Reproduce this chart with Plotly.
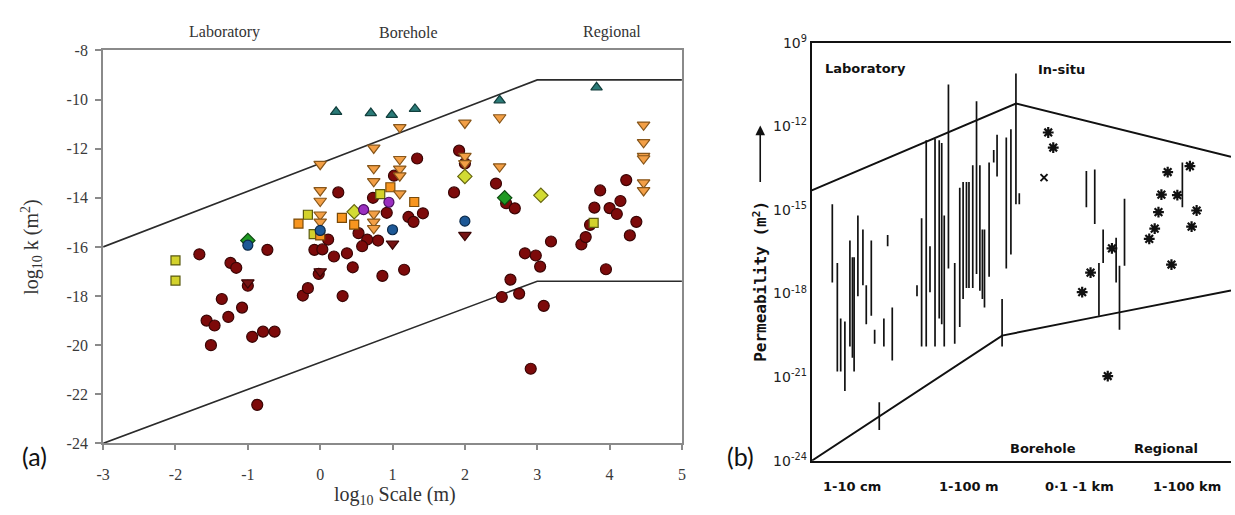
import plotly.graph_objects as go

# ---------------- Panel (a): log10 permeability vs log10 scale ----------------
red_circle_x = [-1.67, -1.57, -1.46, -1.51, -1.36, -1.27, -1.24, -1.16, -1.08, -1.0, -0.94, -0.79, -0.63, -0.73, -0.87,
                -0.24, -0.17, -0.08, 0.03, -0.02, 0.11, 0.19, 0.37, 0.45, 0.31, 0.25, 0.53, 0.65, 0.58, 0.80, 0.73,
                0.86, 0.92, 1.02, 1.16, 1.22, 1.29, 1.34, 1.42,
                1.85, 1.92, 2.0, 2.43, 2.57, 2.69, 2.83, 2.98, 3.04, 3.19, 2.63, 2.51, 2.75, 3.09, 2.91,
                3.61, 3.67, 3.73, 3.79, 3.87, 4.0, 4.1, 4.15, 4.23, 4.37, 4.28, 3.95]
red_circle_y = [-16.3, -19.0, -19.2, -20.0, -18.12, -18.85, -16.65, -16.85, -18.47, -17.58, -19.66, -19.45, -19.45, -16.12, -22.43,
                -17.98, -17.68, -16.12, -16.1, -17.1, -15.7, -16.39, -16.26, -16.83, -18.0, -13.78, -15.44, -15.7, -15.97, -15.74, -14.0,
                -17.18, -14.61, -13.1, -16.93, -14.78, -14.98, -12.4, -14.63,
                -13.78, -12.08, -12.6, -13.42, -14.22, -14.43, -16.26, -16.35, -16.8, -15.78, -17.33, -18.04, -17.9, -18.4, -20.96,
                -15.9, -15.6, -15.1, -14.4, -13.7, -14.42, -14.66, -14.13, -13.28, -14.98, -15.53, -16.91]

red_tri_x = [-1.0, 0.0, 1.0, 2.0]
red_tri_y = [-17.45, -17.0, -15.87, -15.52]

orange_tri_x = [0.0, 0.0, 0.0, 0.0, 0.0,
                0.74, 0.74, 0.74, 0.74, 0.74, 0.74,
                1.1, 1.1, 1.1, 1.1, 1.1,
                2.0, 2.0, 2.0,
                2.48, 2.48,
                4.47, 4.47, 4.47, 4.47, 4.47, 4.47]
orange_tri_y = [-12.63, -13.7, -14.13, -14.69, -14.98,
                -11.97, -12.8, -13.33, -14.65, -14.98, -15.24,
                -11.13, -12.43, -12.82, -13.1, -13.83,
                -10.95, -12.3, -12.6,
                -10.73, -12.73,
                -11.03, -11.74, -12.3, -12.4, -13.38, -13.7]

orange_sq_x = [-0.30, 0.0, 0.30, 0.47, 0.97, 1.30]
orange_sq_y = [-15.05, -15.53, -14.82, -15.09, -13.57, -14.17]

yellow_sq_x = [-2.0, -2.0, -0.17, -0.09, 0.83, 3.78]
yellow_sq_y = [-16.55, -17.37, -14.69, -15.48, -13.85, -15.02]

green_dia_x = [-1.0, 2.55]
green_dia_y = [-15.74, -14.0]

yellow_dia_x = [0.47, 2.0, 3.05]
yellow_dia_y = [-14.57, -13.13, -13.9]

blue_x = [-1.0, 0.0, 1.0, 2.0]
blue_y = [-15.93, -15.33, -15.3, -14.95]

purple_x = [0.60, 0.95]
purple_y = [-14.48, -14.18]

teal_x = [0.22, 0.70, 0.99, 1.31, 2.48, 3.82]
teal_y = [-10.5, -10.55, -10.62, -10.38, -10.03, -9.5]

upper_a_x = [-3, 3, 5]
upper_a_y = [-16, -9.2, -9.2]
lower_a_x = [-3, 3, 5]
lower_a_y = [-24, -17.4, -17.4]

a_xticks = [-3, -2, -1, 0, 1, 2, 3, 4, 5]
a_yticks = [-24, -22, -20, -18, -16, -14, -12, -10, -8]
a_regions = ["Laboratory", "Borehole", "Regional"]
a_region_x = [-1.32, 1.22, 4.04]

# ---------------- Panel (b): permeability ranges by measurement scale ----------------
bar_x = [4.9, 6.1, 6.9, 7.9, 9.1, 9.7, 10.1, 11.0, 12.2, 13.0, 14.2, 15.0, 16.1, 17.2, 18.1, 19.2,
         25.1, 26.2, 27.3, 28.2, 29.4, 30.4, 31.0, 31.6, 32.6, 34.1, 35.3, 36.1, 36.9, 37.5, 38.4, 39.3,
         40.1, 40.7, 41.2, 42.3, 43.4, 44.2, 45.4, 46.4, 47.5, 48.7, 49.5,
         65.5, 67.5, 68.5, 69.5, 72.6, 73.4, 74.6, 88.4]
bar_top = [-14.8, -16.9, -18.9, -19.0, -16.1, -16.7, -16.7, -15.2, -15.7, -17.7, -16.1, -19.3, -21.9, -18.9, -15.9, -18.5,
           -17.7, -15.3, -12.5, -16.3, -12.45, -12.5, -12.6, -15.2, -10.5, -16.9, -14.2, -14.0, -14.0, -14.0, -13.4, -11.1,
           -13.4, -15.7, -15.7, -13.3, -12.85, -12.3, -18.2, -12.4, -12.1, -10.1, -14.4,
           -13.6, -13.55, -16.9, -15.7, -16.0, -17.0, -14.6, -13.3]
bar_bot = [-17.6, -20.8, -20.8, -21.5, -19.9, -20.3, -20.8, -18.1, -17.7, -19.1, -18.8, -19.8, -22.9, -19.9, -16.3, -20.4,
           -18.1, -19.9, -19.9, -17.95, -19.9, -18.9, -19.1, -19.9, -17.1, -19.8, -19.2, -18.2, -17.8, -17.8, -17.8, -17.3,
           -17.9, -18.2, -18.5, -17.4, -13.3, -13.8, -19.9, -17.1, -16.6, -14.8, -14.8,
           -14.9, -15.5, -18.8, -16.9, -17.6, -19.3, -17.0, -14.9]

star_x = [56.4, 57.6, 64.5, 66.5, 71.6, 70.6, 80.5, 81.8, 82.7, 83.4, 84.9, 85.8, 87.2, 90.2, 90.6, 91.8]
star_y = [-12.22, -12.76, -17.95, -17.25, -16.38, -20.96, -16.04, -15.67, -15.08, -14.45, -13.64, -16.96,
          -14.47, -13.43, -15.6, -15.02]
cross_x = [55.4]
cross_y = [-13.84]

upper_b_x = [0, 48.7, 100]
upper_b_y = [-14.3, -11.18, -13.09]
lower_b_x = [0, 45.4, 68.5, 100]
lower_b_y = [-24, -19.51, -18.82, -17.89]

b_yticks = [-24, -21, -18, -15, -12, -9]
b_yticktext = ["10<sup>-24</sup>", "10<sup>-21</sup>", "10<sup>-18</sup>", "10<sup>-15</sup>",
               "10<sup>-12</sup>", "10<sup>9</sup>"]
b_categories = ["1-10 cm", "1-100 m", "0·1 -1 km", "1-100 km"]
b_category_x = [9.7, 37.4, 63.8, 89.4]

W, H = 1235, 515
SERIF = "Liberation Serif"
TYPE = "DejaVu Sans"
MONO = "DejaVu Sans Mono"
INK = "#111111"

fig = go.Figure()


def line_trace(x, y, xa, ya, color="#2b2b2b", width=1.6):
    return go.Scatter(x=x, y=y, mode="lines", xaxis=xa, yaxis=ya, hoverinfo="skip",
                      line=dict(color=color, width=width))


def marker_trace(x, y, symbol, fill, edge, size=10):
    return go.Scatter(x=x, y=y, mode="markers", xaxis="x", yaxis="y",
                      marker=dict(symbol=symbol, size=size, color=fill,
                                  line=dict(color=edge, width=1.2)))


# envelope lines of panel (a)
fig.add_trace(line_trace(upper_a_x, upper_a_y, "x", "y"))
fig.add_trace(line_trace(lower_a_x, lower_a_y, "x", "y"))

# data markers of panel (a)
fig.add_trace(marker_trace(red_circle_x, red_circle_y, "circle", "#7d0a0a", "#3a0505", 11))
fig.add_trace(marker_trace(red_tri_x, red_tri_y, "triangle-down", "#761414", "#3a0505", 11))
fig.add_trace(marker_trace(yellow_sq_x, yellow_sq_y, "square", "#d3d22c", "#5a5a10", 9))
fig.add_trace(marker_trace(orange_sq_x, orange_sq_y, "square", "#f7951f", "#7a4a08", 9))
fig.add_trace(marker_trace(orange_tri_x, orange_tri_y, "triangle-down", "#f39f45", "#87561a", 11))
fig.add_trace(marker_trace(green_dia_x, green_dia_y, "diamond", "#1f9a22", "#0d4a10", 11))
fig.add_trace(marker_trace(yellow_dia_x, yellow_dia_y, "diamond", "#d2db33", "#66660f", 11))
fig.add_trace(marker_trace(blue_x, blue_y, "circle", "#1d5896", "#0c2a4a", 10))
fig.add_trace(marker_trace(purple_x, purple_y, "circle", "#9a2fc0", "#4a1060", 10))
fig.add_trace(marker_trace(teal_x, teal_y, "triangle-up", "#2a7a77", "#123f3d", 10))

# range bars of panel (b)
bx, by = [], []
for xv, t, b in zip(bar_x, bar_top, bar_bot):
    bx += [xv, xv, None]
    by += [t, b, None]
fig.add_trace(go.Scatter(x=bx, y=by, mode="lines", xaxis="x2", yaxis="y2", hoverinfo="skip",
                         line=dict(color=INK, width=1.7)))

# envelope of panel (b)
fig.add_trace(line_trace(upper_b_x, upper_b_y, "x2", "y2", INK, 2))
fig.add_trace(line_trace(lower_b_x, lower_b_y, "x2", "y2", INK, 2))

# point estimates of panel (b)
fig.add_trace(go.Scatter(x=star_x, y=star_y, mode="markers", xaxis="x2", yaxis="y2",
                         marker=dict(symbol="asterisk-open", size=9, color=INK,
                                     line=dict(color=INK, width=2.2))))
fig.add_trace(go.Scatter(x=cross_x, y=cross_y, mode="markers", xaxis="x2", yaxis="y2",
                         marker=dict(symbol="x-thin-open", size=7, color=INK,
                                     line=dict(color=INK, width=2))))

axis_gray = "#8a8a8a"
fig.update_layout(
    width=W, height=H,
    margin=dict(l=0, r=0, t=0, b=0),
    paper_bgcolor="white", plot_bgcolor="white",
    showlegend=False,
    font=dict(family=SERIF, color="#333333"),
    xaxis=dict(domain=[97 / W, 681 / W], range=[-3, 5], anchor="y",
               tickvals=a_xticks, ticktext=[str(v) for v in a_xticks],
               ticks="outside", ticklen=5, tickwidth=1.5, tickcolor=axis_gray,
               ticklabelstandoff=10,
               showline=True, linecolor=axis_gray, linewidth=2, mirror=True,
               showgrid=False, zeroline=False,
               tickfont=dict(family=SERIF, size=16, color="#3a3a3a")),
    yaxis=dict(domain=[1 - 450 / H, 1 - 42 / H], range=[-24, -8], anchor="x",
               tickvals=a_yticks, ticktext=[str(v) for v in a_yticks],
               ticks="outside", ticklen=6, tickwidth=1.5, tickcolor=axis_gray,
               ticklabelstandoff=4,
               showline=True, linecolor=axis_gray, linewidth=2, mirror=True,
               showgrid=False, zeroline=False,
               tickfont=dict(family=SERIF, size=16, color="#3a3a3a")),
    xaxis2=dict(domain=[812 / W, 1.0], range=[0, 100], anchor="y2",
                showticklabels=False, ticks="",
                showline=True, linecolor=INK, linewidth=2, mirror=True,
                showgrid=False, zeroline=False),
    yaxis2=dict(domain=[1 - 468 / H, 1 - 34 / H], range=[-24, -9], anchor="x2",
                tickvals=b_yticks, ticktext=b_yticktext, ticks="",
                showline=True, linecolor=INK, linewidth=2,
                showgrid=False, zeroline=False,
                tickfont=dict(family=TYPE, size=14, color="#222222")),
)


def paper_text(text, px, py, font, angle=0):
    return dict(text=text, x=px / W, y=1 - py / H, xref="paper", yref="paper",
                xanchor="center", yanchor="middle", textangle=angle,
                showarrow=False, font=font)


ann = []
for name, xv in zip(a_regions, a_region_x):
    ann.append(dict(text=name, x=xv, xref="x", y=1 - 23 / H, yref="paper",
                    xanchor="center", yanchor="middle", showarrow=False,
                    font=dict(family=SERIF, size=16, color="#333333")))
ann.append(paper_text("log<sub>10</sub> k (m<sup>2</sup>)", 25, 246,
                      dict(family=SERIF, size=20, color="#333333"), -90))
ann.append(paper_text("log<sub>10</sub> Scale (m)", 391, 504,
                      dict(family=SERIF, size=20, color="#333333")))
label_font = dict(family="Lato", size=25, color=INK)
ann.append(paper_text("(a)", 28, 463, label_font))
ann.append(paper_text("(b)", 740, 463, label_font))

# panel (b) text
b_font = dict(family=TYPE, size=13, color=INK, weight="bold")
for text, xv, yv in [("Laboratory", 2.6, -9.93), ("In-situ", 53.4, -9.97),
                     ("Borehole", 46.8, -23.55), ("Regional", 76.4, -23.55)]:
    ann.append(dict(text=text, x=xv, y=yv, xref="x2", yref="y2", xanchor="left",
                    yanchor="middle", showarrow=False, font=b_font))
for name, xv in zip(b_categories, b_category_x):
    ann.append(dict(text=name, x=xv, xref="x2", y=1 - 495 / H, yref="paper",
                    xanchor="center", yanchor="middle", showarrow=False, font=b_font))
ann.append(paper_text("Permeability (m<sup>2</sup>)", 760, 282,
                      dict(family=MONO, size=16, color=INK, weight="bold"), -90))
ann.append(dict(text="", x=760 / W, y=1 - 120 / H, xref="paper", yref="paper",
                ax=0, ay=58, showarrow=True, arrowhead=2, arrowsize=1.2,
                arrowwidth=1.6, arrowcolor=INK, standoff=0, startstandoff=0))
fig.update_layout(annotations=ann)

fig.write_html("out.html")
